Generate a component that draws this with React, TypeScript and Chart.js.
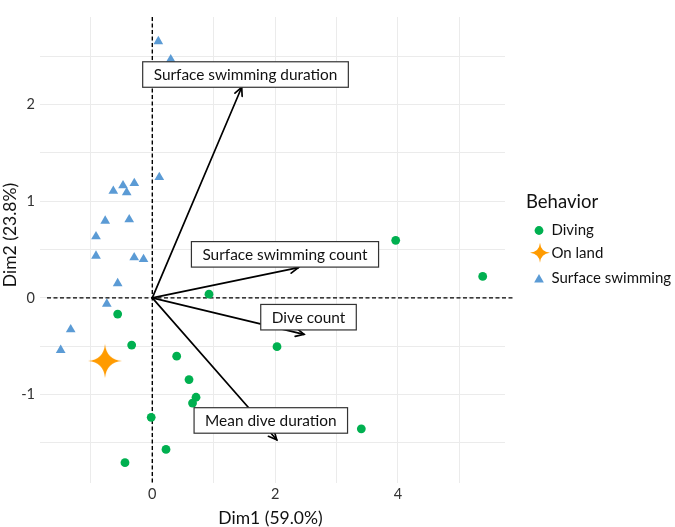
import React, { useEffect, useRef } from "react";
import { Chart, registerables } from "chart.js";
Chart.register(...registerables);

// ---- data ----
const divingX = [0.923, -0.564, -0.336, 0.397, 0.598, 0.712, 0.655, -0.018, 0.223, -0.445, 5.381, 2.031, 3.404, 3.964];
const divingY = [0.038, -0.168, -0.488, -0.603, -0.845, -1.028, -1.088, -1.236, -1.568, -1.705, 0.222, -0.505, -1.355, 0.595];
const landX = [-0.77];
const landY = [-0.652];
const swimX = [0.098, 0.3, 0.114, -0.635, -0.477, -0.293, -0.417, -0.767, -0.376, -0.917, -0.917, -0.295, -0.143, -0.564, -0.741, -1.329, -1.492];
const swimY = [2.652, 2.465, 1.247, 1.105, 1.162, 1.185, 1.089, 0.796, 0.81, 0.634, 0.434, 0.417, 0.399, 0.15, -0.063, -0.328, -0.541];

const varNames = ["Surface swimming duration", "Surface swimming count", "Dive count", "Mean dive duration"];
const varX = [1.456, 2.378, 2.47, 2.026];
const varY = [2.178, 0.312, -0.378, -1.468];
const labelX = [1.518, 2.161, 2.544, 1.93];
const labelY = [2.31, 0.45, -0.2, -1.268];

const xGrid = [-1, 0, 1, 2, 3, 4, 5];
const xLabels = [0, 2, 4];
const yGrid = [-1.5, -1, -0.5, 0, 0.5, 1, 1.5, 2, 2.5];
const yLabels = [-1, 0, 1, 2];

const groups = ["Diving", "On land", "Surface swimming"];
const legendTitle = "Behavior";
const xTitle = "Dim1 (59.0%)";
const yTitle = "Dim2 (23.8%)";

const GREEN = "#00b050";
const ORANGE = "#ff9b00";
const BLUE = "#5b9bd5";
const FONT = "Lato, 'Open Sans', sans-serif";
const TEXT = "#111";

function starPath(ctx: CanvasRenderingContext2D, cx: number, cy: number, R: number) {
  const c = 0.08 * R;
  ctx.beginPath();
  ctx.moveTo(cx, cy - R);
  ctx.quadraticCurveTo(cx + c, cy - c, cx + R, cy);
  ctx.quadraticCurveTo(cx + c, cy + c, cx, cy + R);
  ctx.quadraticCurveTo(cx - c, cy + c, cx - R, cy);
  ctx.quadraticCurveTo(cx - c, cy - c, cx, cy - R);
  ctx.closePath();
}

function makeStar(R: number, color: string): HTMLCanvasElement {
  const cv = document.createElement("canvas");
  const s = Math.ceil(2 * R + 2);
  cv.width = s;
  cv.height = s;
  const ctx = cv.getContext("2d")!;
  ctx.fillStyle = color;
  starPath(ctx, s / 2, s / 2, R);
  ctx.fill();
  return cv;
}

const biplotPlugin = {
  id: "biplot",
  beforeDatasetsDraw(chart: any) {
    const { ctx, scales } = chart;
    const xs = scales.x, ys = scales.y;
    ctx.save();
    ctx.strokeStyle = "#000";
    ctx.lineWidth = 1.4;
    ctx.setLineDash([4, 2.5]);
    ctx.beginPath();
    ctx.moveTo(xs.getPixelForValue(-1.715), ys.getPixelForValue(0));
    ctx.lineTo(xs.getPixelForValue(5.875), ys.getPixelForValue(0));
    ctx.moveTo(xs.getPixelForValue(0), ys.getPixelForValue(2.905));
    ctx.lineTo(xs.getPixelForValue(0), ys.getPixelForValue(-1.915));
    ctx.stroke();
    ctx.restore();
  },
  afterDatasetsDraw(chart: any) {
    const { ctx, scales } = chart;
    const xs = scales.x, ys = scales.y;
    const ox = xs.getPixelForValue(0), oy = ys.getPixelForValue(0);
    ctx.save();
    ctx.strokeStyle = "#000";
    ctx.lineWidth = 1.7;
    ctx.setLineDash([]);
    ctx.lineCap = "round";
    ctx.lineJoin = "miter";
    for (let i = 0; i < varX.length; i++) {
      const tx = xs.getPixelForValue(varX[i]);
      const ty = ys.getPixelForValue(varY[i]);
      ctx.beginPath();
      ctx.moveTo(ox, oy);
      ctx.lineTo(tx, ty);
      ctx.stroke();
      const a = Math.atan2(ty - oy, tx - ox);
      const L = 9, s = 0.45;
      ctx.beginPath();
      ctx.moveTo(tx - L * Math.cos(a - s), ty - L * Math.sin(a - s));
      ctx.lineTo(tx, ty);
      ctx.lineTo(tx - L * Math.cos(a + s), ty - L * Math.sin(a + s));
      ctx.stroke();
    }
    ctx.font = `15.4px ${FONT}`;
    ctx.textAlign = "center";
    ctx.textBaseline = "middle";
    for (let i = 0; i < varNames.length; i++) {
      const cx = xs.getPixelForValue(labelX[i]);
      const cy = ys.getPixelForValue(labelY[i]);
      const w = ctx.measureText(varNames[i]).width + 22;
      const h = 25.5;
      ctx.fillStyle = "#fff";
      ctx.fillRect(cx - w / 2, cy - h / 2, w, h);
      ctx.lineWidth = 1.2;
      ctx.strokeStyle = "#333";
      ctx.strokeRect(cx - w / 2, cy - h / 2, w, h);
      ctx.fillStyle = TEXT;
      ctx.fillText(varNames[i], cx, cy + 0.5);
    }
    ctx.restore();
  },
  afterDraw(chart: any) {
    const { ctx, chartArea } = chart;
    ctx.save();
    // axis titles
    ctx.fillStyle = TEXT;
    ctx.font = `17.5px ${FONT}`;
    ctx.textAlign = "center";
    ctx.textBaseline = "middle";
    ctx.fillText(xTitle, (chartArea.left + chartArea.right) / 2 - 2, 518);
    ctx.save();
    ctx.translate(10, 235);
    ctx.rotate(-Math.PI / 2);
    ctx.fillText(yTitle, 0, 0);
    ctx.restore();
    // legend
    const lx = chartArea.right + 21;
    ctx.textAlign = "left";
    ctx.textBaseline = "alphabetic";
    ctx.font = `18.5px ${FONT}`;
    ctx.fillText(legendTitle, lx, 208.3);
    const mx = lx + 13;
    const rows = [230.5, 252.8, 278.3];
    // circle
    ctx.fillStyle = GREEN;
    ctx.beginPath();
    ctx.arc(mx, rows[0], 4.4, 0, Math.PI * 2);
    ctx.fill();
    // star
    ctx.fillStyle = ORANGE;
    starPath(ctx, mx + 1, rows[1], 10);
    ctx.fill();
    // triangle
    ctx.fillStyle = BLUE;
    const r = 5.6, tcy = rows[2] + 1.4;
    ctx.beginPath();
    ctx.moveTo(mx, tcy - r);
    ctx.lineTo(mx + r * Math.sqrt(3) / 2, tcy + r / 2);
    ctx.lineTo(mx - r * Math.sqrt(3) / 2, tcy + r / 2);
    ctx.closePath();
    ctx.fill();
    ctx.fillStyle = TEXT;
    ctx.font = `15px ${FONT}`;
    ctx.textBaseline = "middle";
    for (let i = 0; i < groups.length; i++) {
      ctx.fillText(groups[i], lx + 25.5, rows[i]);
    }
    ctx.restore();
  },
};

export default function App() {
  const ref = useRef<HTMLCanvasElement | null>(null);
  useEffect(() => {
    if (!ref.current) return;
    const star = makeStar(17, ORANGE);
    const chart = new Chart(ref.current, {
      type: "scatter",
      data: {
        datasets: [
          {
            label: groups[0],
            data: divingX.map((x, i) => ({ x, y: divingY[i] })),
            pointStyle: "circle",
            pointRadius: 4.4,
            pointBackgroundColor: GREEN,
            pointBorderWidth: 0,
            pointBorderColor: GREEN,
          },
          {
            label: groups[1],
            data: landX.map((x, i) => ({ x, y: landY[i] })),
            pointStyle: star as any,
            pointRadius: 17,
            pointBackgroundColor: ORANGE,
            pointBorderWidth: 0,
          },
          {
            label: groups[2],
            data: swimX.map((x, i) => ({ x, y: swimY[i] })),
            pointStyle: "triangle",
            pointRadius: 5.6,
            pointBackgroundColor: BLUE,
            pointBorderWidth: 0,
            pointBorderColor: BLUE,
          },
        ],
      },
      options: {
        animation: false,
        responsive: false,
        devicePixelRatio: 1,
        layout: { padding: { left: 0, right: 170, top: 0, bottom: 0 } },
        plugins: {
          legend: { display: false },
          tooltip: { enabled: false },
        },
        scales: {
          x: {
            type: "linear",
            min: -1.829,
            max: 5.744,
            afterBuildTicks: (ax: any) => {
              ax.ticks = xGrid.map((v) => ({ value: v }));
            },
            afterFit: (s: any) => {
              s.height = 44;
            },
            ticks: {
              autoSkip: false,
              maxRotation: 0,
              padding: 3,
              color: "#333",
              font: { family: FONT, size: 14.5 },
              callback: (v: any) => (xLabels.includes(Number(v)) ? String(v) : ""),
            },
            grid: { color: "#ebebeb", lineWidth: 1, drawTicks: false },
            border: { display: false },
          },
          y: {
            type: "linear",
            min: -1.915,
            max: 2.905,
            afterBuildTicks: (ax: any) => {
              ax.ticks = yGrid.map((v) => ({ value: v }));
            },
            afterFit: (s: any) => {
              s.width = 40;
            },
            ticks: {
              autoSkip: false,
              padding: 5,
              color: "#333",
              font: { family: FONT, size: 14.5 },
              callback: (v: any) => (yLabels.includes(Number(v)) ? String(v) : ""),
            },
            grid: { color: "#ebebeb", lineWidth: 1, drawTicks: false },
            border: { display: false },
          },
        },
      },
      plugins: [biplotPlugin],
    });
    return () => chart.destroy();
  }, []);
  return (
    <div style={{ position: "fixed", left: 0, top: 0, width: 675, height: 527, background: "#fff" }}>
      <canvas ref={ref} width={675} height={527} style={{ display: "block" }} />
    </div>
  );
}
